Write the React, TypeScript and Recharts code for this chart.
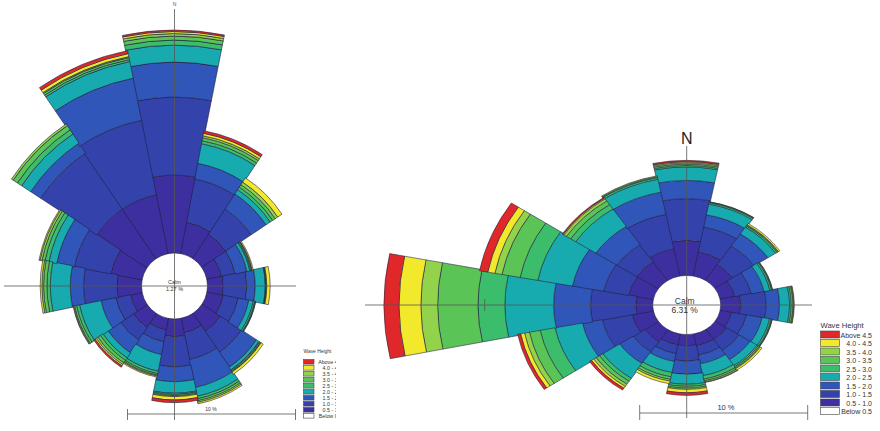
import React from 'react';
import { RadialBarChart, RadialBar, PolarAngleAxis, PolarRadiusAxis, Cell } from 'recharts';

// Compass sectors, clockwise from north
const directions = ['N', 'NNE', 'NE', 'ENE', 'E', 'ESE', 'SE', 'SSE', 'S', 'SSW', 'SW', 'WSW', 'W', 'WNW', 'NW', 'NNW'];

// Wave height classes (m), innermost first
const classKeys = ['h05', 'h10', 'h15', 'h20', 'h25', 'h30', 'h35', 'h40', 'h45'];
const classColors = ['#3d2f9f', '#3443ab', '#2f56b8', '#17abb0', '#3cbd6c', '#5ac556', '#93d34c', '#f3e92c', '#e0282a'];

const legendLabels = ['Above 4.5', '4.0 - 4.5', '3.5 - 4.0', '3.0 - 3.5', '2.5 - 3.0', '2.0 - 2.5', '1.5 - 2.0', '1.0 - 1.5', '0.5 - 1.0', 'Below 0.5'];
const legendColors = ['#e0282a', '#f3e92c', '#93d34c', '#5ac556', '#3cbd6c', '#17abb0', '#2f56b8', '#3443ab', '#3d2f9f', '#ffffff'];

// Left rose: frequency (%) per direction for each wave height class
const leftH05 = [4.64, 1.9, 1.73, 0.89, 0.95, 1.0, 1.31, 0.89, 1.05, 0.71, 1.0, 0.71, 1.47, 1.9, 3.57, 3.57];
const leftH10 = [4.64, 2.62, 1.79, 0.83, 1.39, 0.89, 1.49, 1.61, 1.79, 0.71, 0.9, 0.89, 1.98, 2.2, 3.99, 4.52];
const leftH15 = [2.08, 0.95, 1.07, 0.71, 0.5, 0.65, 1.07, 1.7, 0.89, 0.77, 0.9, 0.89, 0.79, 1.07, 0.71, 2.56];
const leftH20 = [1.01, 1.19, 0.3, 0.18, 0.6, 0.27, 0.18, 0.54, 0.69, 1.01, 0.36, 1.31, 1.19, 0.48, 0.65, 1.01];
const leftH25 = [0.3, 0.18, 0.18, 0.06, 0.03, 0.09, 0.06, 0.15, 0.07, 0.15, 0.18, 0.18, 0.2, 0.24, 0.3, 0.12];
const leftH30 = [0.24, 0.18, 0.18, 0.06, 0.03, 0.04, 0.06, 0.12, 0.07, 0.09, 0.18, 0.12, 0.2, 0.18, 0.3, 0.12];
const leftH35 = [0.15, 0.12, 0.18, 0.03, 0.03, 0.02, 0.03, 0.09, 0.06, 0.06, 0.12, 0.06, 0.1, 0.12, 0.12, 0.06];
const leftH40 = [0.12, 0.15, 0.3, 0.06, 0.2, 0, 0.15, 0.09, 0.2, 0.06, 0.09, 0.03, 0.1, 0.06, 0, 0.18];
const leftH45 = [0.09, 0.15, 0, 0, 0, 0, 0, 0, 0.16, 0, 0.09, 0, 0, 0, 0, 0.18];
const leftCalm = '1.27 %';

// Right rose: frequency (%) per direction for each wave height class
const rightH05 = [2.4, 1.67, 1.3, 0.9, 1.2, 0.7, 0.83, 0.83, 0.77, 0.77, 1.0, 1.3, 1.0, 1.5, 1.55, 1.9];
const rightH10 = [2.85, 1.73, 1.5, 1.0, 1.5, 0.9, 0.9, 0.65, 1.04, 0.6, 0.83, 1.8, 2.7, 1.5, 1.4, 2.4];
const rightH15 = [1.25, 0.86, 1.0, 0.77, 0.8, 0.95, 0.77, 0.6, 0.91, 0.54, 0.95, 1.2, 2.2, 1.9, 1.5, 1.55];
const rightH20 = [0.92, 0.74, 0.55, 0.36, 0.6, 0.45, 0.48, 0.83, 0.68, 0.77, 1.2, 1.67, 2.9, 2.1, 1.43, 0.9];
const rightH25 = [0.1, 0.1, 0.1, 0.1, 0.1, 0.1, 0.1, 0.24, 0.14, 0.3, 0.24, 0.9, 1.6, 1.07, 0.36, 0.12];
const rightH30 = [0.1, 0.05, 0.06, 0.05, 0.1, 0.05, 0.08, 0.12, 0.12, 0.18, 0.24, 0.65, 2.4, 1.1, 0.3, 0.06];
const rightH35 = [0.09, 0.02, 0.04, 0.02, 0.05, 0.02, 0.06, 0.09, 0.09, 0.12, 0.18, 0.3, 1.0, 0.43, 0.18, 0.06];
const rightH40 = [0.07, 0, 0.1, 0, 0.03, 0, 0.12, 0.03, 0.23, 0.18, 0.15, 0.24, 1.3, 0.43, 0.06, 0];
const rightH45 = [0.09, 0, 0, 0, 0, 0, 0, 0, 0.18, 0, 0.15, 0.18, 0.9, 0.5, 0.06, 0];
const rightCalm = '6.31 %';

const scaleLabel = '10 %';
const scalePct = 10;

const PX_PER_PCT = 16.8;

function buildRows(series: number[][]) {
  return directions.map((dir, i) => {
    const row: Record<string, string | number> = { dir };
    classKeys.forEach((k, j) => {
      row[k] = series[j][i];
    });
    return row;
  });
}

const leftRows = buildRows([leftH05, leftH10, leftH15, leftH20, leftH25, leftH30, leftH35, leftH40, leftH45]);
const rightRows = buildRows([rightH05, rightH10, rightH15, rightH20, rightH25, rightH30, rightH35, rightH40, rightH45]);

type RoseProps = {
  rows: Record<string, string | number>[];
  width: number;
  height: number;
  cx: number;
  cy: number;
  inner: number;
  maxPct: number;
};

// Each sector's band starts at the category angle and sweeps +22.5°,
// so the axis starts half a sector clockwise of north.
const ROSE_START = 78.75;
const SECTOR_EDGE = '#1e1e3c';

function Rose({ rows, width, height, cx, cy, inner, maxPct }: RoseProps) {
  return (
    <RadialBarChart
      width={width}
      height={height}
      data={rows}
      layout="centric"
      cx={cx}
      cy={cy}
      innerRadius={inner}
      outerRadius={inner + maxPct * PX_PER_PCT}
      startAngle={ROSE_START}
      endAngle={ROSE_START - 360}
      barCategoryGap={0}
      barGap={0}
      margin={{ top: 0, right: 0, bottom: 0, left: 0 }}
    >
      <PolarAngleAxis type="category" dataKey="dir" tick={false} axisLine={false} tickLine={false} />
      <PolarRadiusAxis type="number" domain={[0, maxPct]} tick={false} axisLine={false} tickLine={false} />
      {classKeys.map((k, j) => (
        <RadialBar
          key={k}
          dataKey={k}
          stackId="wave"
          fill={classColors[j]}
          strokeWidth={0.6}
          isAnimationActive={false}
        >
          {rows.map((row) => (
            <Cell
              key={`${k}-${row.dir}`}
              fill={classColors[j]}
              stroke={Number(row[k]) > 0 ? SECTOR_EDGE : 'none'}
            />
          ))}
        </RadialBar>
      ))}
    </RadialBarChart>
  );
}

// Geometry of the two roses on the page
const L = { cx: 174.5, cy: 286, inner: 33 };
const R = { cx: 686.7, cy: 305, inner: 34, squash: 0.87 };
const RBOX = { x: 360, y: 120, w: 470, h: 311 };

const axisStroke = '#555';

function Legend({ x, y, swW, swH, pitch, labelEnd, titleY, font, titleFont, clipX }: {
  x: number; y: number; swW: number; swH: number; pitch: number; labelEnd: number; titleY: number; font: number; titleFont: number; clipX?: number;
}) {
  const id = `clip-${Math.round(x)}`;
  return (
    <g clipPath={clipX ? `url(#${id})` : undefined}>
      {clipX ? (
        <defs>
          <clipPath id={id}>
            <rect x={0} y={0} width={clipX} height={431} />
          </clipPath>
        </defs>
      ) : null}
      <text x={x} y={titleY} fontSize={titleFont} fill="#333">Wave Height</text>
      {legendLabels.map((lab, i) => (
        <g key={lab}>
          <rect x={x} y={y + i * pitch} width={swW} height={swH} fill={legendColors[i]} stroke="#444" strokeWidth={0.6} />
          <text x={labelEnd} y={y + i * pitch + swH - 0.5} fontSize={font} fill="#333" textAnchor="end">{lab}</text>
        </g>
      ))}
    </g>
  );
}

export default function App() {
  const leftTenR = L.inner + scalePct * PX_PER_PCT;
  const rightTenR = R.inner + scalePct * PX_PER_PCT;
  const barLen = scalePct * PX_PER_PCT;
  return (
    <div
      style={{
        position: 'absolute',
        left: 0,
        top: 0,
        width: 880,
        height: 431,
        background: '#ffffff',
        overflow: 'hidden',
        fontFamily: '"Liberation Sans", Arial, sans-serif',
      }}
    >
      <div style={{ position: 'absolute', left: 0, top: 0 }}>
        <Rose rows={leftRows} width={340} height={431} cx={L.cx} cy={L.cy} inner={L.inner} maxPct={15} />
      </div>
      <div
        style={{
          position: 'absolute',
          left: RBOX.x,
          top: RBOX.y,
          transform: `scaleY(${R.squash})`,
          transformOrigin: `${R.cx - RBOX.x}px ${R.cy - RBOX.y}px`,
        }}
      >
        <Rose rows={rightRows} width={RBOX.w} height={RBOX.h} cx={R.cx - RBOX.x} cy={R.cy - RBOX.y} inner={R.inner} maxPct={18} />
      </div>
      <svg width={880} height={431} style={{ position: 'absolute', left: 0, top: 0 }}>
        {/* left rose axes */}
        <line x1={L.cx} y1={9} x2={L.cx} y2={420} stroke={axisStroke} strokeWidth={0.8} />
        <line x1={4} y1={L.cy} x2={296} y2={L.cy} stroke={axisStroke} strokeWidth={0.8} />
        <line x1={L.cx - 6} y1={L.cy - leftTenR} x2={L.cx + 6} y2={L.cy - leftTenR} stroke={axisStroke} strokeWidth={0.8} />
        <text x={L.cx} y={6} fontSize={5} textAnchor="middle" fill="#555">N</text>
        <text x={L.cx} y={284} fontSize={5.5} textAnchor="middle" fill="#333">Calm</text>
        <text x={L.cx} y={291} fontSize={5.5} textAnchor="middle" fill="#333">{leftCalm}</text>
        {/* left scale bar */}
        <line x1={L.cx - 47} y1={414} x2={L.cx - 47 + barLen} y2={414} stroke={axisStroke} strokeWidth={0.8} />
        <line x1={L.cx - 47} y1={409} x2={L.cx - 47} y2={420} stroke={axisStroke} strokeWidth={0.8} />
        <line x1={L.cx - 47 + barLen} y1={409} x2={L.cx - 47 + barLen} y2={420} stroke={axisStroke} strokeWidth={0.8} />
        <text x={211} y={411} fontSize={5} textAnchor="middle" fill="#333">{scaleLabel}</text>
        <Legend x={303.5} y={359.5} swW={10.5} swH={4.6} pitch={6.0} labelEnd={342} titleY={353} font={5.3} titleFont={4.9} clipX={336} />

        {/* right rose axes */}
        <line x1={R.cx} y1={146} x2={R.cx} y2={418} stroke={axisStroke} strokeWidth={0.8} />
        <line x1={365} y1={R.cy} x2={812} y2={R.cy} stroke={axisStroke} strokeWidth={0.8} />
        <line x1={R.cx - rightTenR} y1={R.cy - 6} x2={R.cx - rightTenR} y2={R.cy + 6} stroke={axisStroke} strokeWidth={0.8} />
        <text x={R.cx} y={144} fontSize={16} textAnchor="middle" fill="#222">N</text>
        <text x={R.cx - 2} y={303.5} fontSize={8.5} textAnchor="middle" fill="#333">Calm</text>
        <text x={R.cx - 2} y={312.5} fontSize={8.5} textAnchor="middle" fill="#333">{rightCalm}</text>
        {/* right scale bar */}
        <line x1={R.cx - 47} y1={413} x2={R.cx - 47 + barLen} y2={413} stroke={axisStroke} strokeWidth={0.8} />
        <line x1={R.cx - 47} y1={405} x2={R.cx - 47} y2={420} stroke={axisStroke} strokeWidth={0.8} />
        <line x1={R.cx - 47 + barLen} y1={405} x2={R.cx - 47 + barLen} y2={420} stroke={axisStroke} strokeWidth={0.8} />
        <text x={726} y={410} fontSize={7.5} textAnchor="middle" fill="#333">{scaleLabel}</text>
        <Legend x={820.5} y={331} swW={19} swH={7} pitch={8.5} labelEnd={872} titleY={327.5} font={7} titleFont={7.6} />
      </svg>
    </div>
  );
}
